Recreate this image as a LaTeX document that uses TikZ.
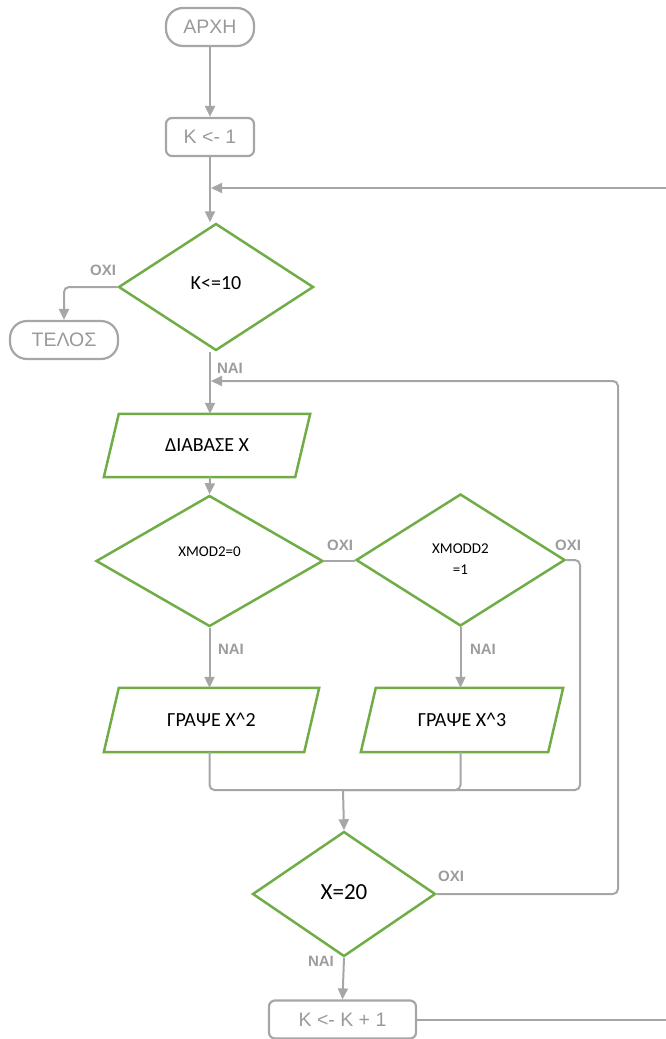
\documentclass[tikz,border=0pt]{standalone}
\usepackage{fontspec}
\setmainfont{Liberation Sans}
\newfontfamily\calib{Carlito}
\usetikzlibrary{shapes.geometric,arrows.meta}
\definecolor{lineg}{HTML}{A6A6A6}
\definecolor{textg}{HTML}{999999}
\definecolor{labg}{HTML}{9C9C9C}
\definecolor{grn}{HTML}{70AD47}
\tikzset{
  gl/.style={draw=lineg, line width=2pt, rounded corners=5pt},
  arr/.style={gl, -{Triangle[length=11pt,width=10pt]}},
  pill/.style={draw=lineg, line width=2.2pt, rounded corners=17pt, text=textg,
    font=\fontsize{19.5}{22}\selectfont, inner sep=0pt, minimum height=38pt},
  boxg/.style={draw=lineg, line width=2.2pt, rounded corners=6pt, text=textg,
    font=\fontsize{19.5}{22}\selectfont, inner sep=0pt, minimum height=38pt},
  dia/.style={diamond, draw=grn, line width=2.5pt, inner sep=0pt, align=center},
  parbox/.style={inner sep=0pt, font=\calib\fontsize{20}{24}\selectfont},
  pline/.style={draw=grn, line width=2.5pt},
  lab/.style={text=labg, font=\bfseries\fontsize{15}{17}\selectfont, inner sep=0pt}
}
\newcommand\paral[1]{\path[pline] ([xshift=15pt]#1.north west) -- (#1.north east) -- ([xshift=-15pt]#1.south east) -- (#1.south west) -- cycle;}
\begin{document}
\begin{tikzpicture}[x=1pt,y=-1pt]
\useasboundingbox (0,0) rectangle (666,1039);
% nodes
\node[pill, minimum width=88pt] (start) at (210,27) {ΑΡΧΗ};
\node[boxg, minimum width=88pt] (k1) at (210,137) {K <- 1};
\node[dia, minimum width=195pt, minimum height=127pt] (d1) at (216,287) {};
\node[font=\calib\fontsize{20}{24}\selectfont] (d1t) at (216,283) {K<=10};
\node[pill, minimum width=108pt] (end) at (64,340) {ΤΕΛΟΣ};
\node[parbox, minimum width=206pt, minimum height=63pt] (p1) at (207,445.5) {ΔΙΑΒΑΣΕ X};
\paral{p1}
\node[dia, minimum width=227pt, minimum height=131pt] (d2) at (209.5,561) {};
\node[font=\calib\fontsize{15}{18}\selectfont] (d2t) at (209.5,552) {XMOD2=0};
\node[dia, minimum width=209pt, minimum height=132pt] (d3) at (460.5,560) {};
\node[font=\calib\fontsize{15}{21}\selectfont, align=center, inner sep=0pt] (d3t) at (460.5,559) {XMODD2\\=1};
\node[parbox, minimum width=215pt, minimum height=64pt] (p2) at (211.5,720) {ΓΡΑΨΕ X\^{}2};
\paral{p2}
\node[parbox, minimum width=202pt, minimum height=64pt] (p3) at (462,720) {ΓΡΑΨΕ X\^{}3};
\paral{p3}
\node[dia, minimum width=183pt, minimum height=125pt] (d4) at (344,894) {};
\node[font=\calib\fontsize{23}{26}\selectfont] (d4t) at (344,892) {X=20};
\node[boxg, minimum width=147pt] (k2) at (342.5,1019.5) {K <- K + 1};
% coordinates
\coordinate (rin1) at (666,188);
\coordinate (in1) at (211,188);
\coordinate (in2) at (211,381);
\coordinate (loopR) at (618,381);
\coordinate (rc) at (580,790);
\coordinate (mg) at (343,790);
\coordinate (rout) at (666,1019.5);
% connectors
\draw[arr] (start) -- (k1);
\draw[arr] (k1.south) -- (k1.south |- d1.north);
\draw[arr] (rin1) -- (in1);
\draw[arr] (d1.west) -| (end.north);
\draw[arr] (k1.south |- d1.south) -- (k1.south |- p1.north);
\draw[arr] (d4.east) -| (loopR) -- (in2);
\draw[arr] (k1.south |- p1.south) -- (d2.north);
\draw[gl] (d2.east) -- (d2.east -| d3.west);
\draw[arr] (d2.south) -- (d2.south |- p2.north);
\draw[arr] (d3.south) -- (d3.south |- p3.north);
\draw[gl] (p2.south -| d2.south) |- (mg);
\draw[gl] (p3.south -| d3.south) |- (mg);
\draw[gl] (d3.east) -| (rc) -- (mg);
\draw[arr] (mg) -- (d4.north);
\draw[arr] (d4.south) -- (k2.north);
\draw[gl] (k2.east) -- (rout);
% labels
\node[lab] (l1) at (103,270) {ΟΧΙ};
\node[lab] (l2) at (230,368) {ΝΑΙ};
\node[lab] (l3) at (340,545) {ΟΧΙ};
\node[lab] (l4) at (568,545) {ΟΧΙ};
\node[lab] (l5) at (231,649) {ΝΑΙ};
\node[lab] (l6) at (483,649) {ΝΑΙ};
\node[lab] (l7) at (451,876) {ΟΧΙ};
\node[lab] (l8) at (321,961) {ΝΑΙ};
\end{tikzpicture}
\end{document}
